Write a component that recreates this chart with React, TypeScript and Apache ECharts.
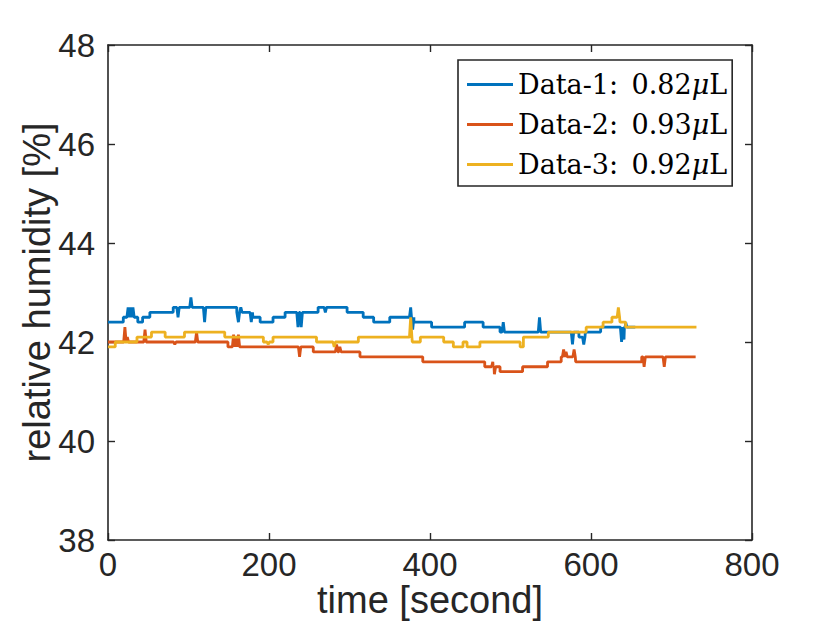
import React, { useEffect, useRef } from "react";
import * as echarts from "echarts";

// ---- Data (time in seconds, relative humidity in %) ----
// Step levels: [start time, value]; each level holds until the next start (or the end time)
const blueSteps: [number, number][] = [
  [0, 42.4], [19, 42.5], [37, 42.4], [43, 42.5], [52, 42.6], [81, 42.7], [160, 42.6],
  [180, 42.5], [189, 42.4], [205, 42.5], [220, 42.6], [261, 42.7], [297, 42.6], [317, 42.5],
  [330, 42.4], [350, 42.5], [380, 42.4], [402, 42.3], [443, 42.4], [466, 42.3], [487, 42.2],
  [585, 42.1], [593, 42.2], [612, 42.3],
];
const blueEnd = 655;
const blueSpikes: [number, number][] = [
  [25, 42.7], [28.5, 42.7], [31, 42.7], [87, 42.5], [103, 42.9], [120, 42.4], [162, 42.4],
  [165, 42.7], [178, 42.4], [236, 42.3], [240, 42.3], [270, 42.6], [376, 42.7], [378.5, 42.25],
  [491, 42.4], [536, 42.5], [577, 41.95], [591, 41.95], [638, 42.0], [641, 42.05], [643, 42.4],
];

const redSteps: [number, number][] = [
  [0, 42.0], [149, 41.9], [255, 41.8], [313, 41.7], [391, 41.6], [468, 41.5], [487, 41.4],
  [515, 41.5], [546, 41.6], [563, 41.7], [581, 41.6], [663, 41.7],
];
const redEnd = 730;
const redSpikes: [number, number][] = [
  [21, 42.3], [24, 42.1], [46, 42.25], [83, 41.95], [110, 42.2], [156, 42.15], [159, 42.1],
  [162, 42.15], [238, 41.7], [284, 41.95], [288, 41.9], [478, 41.6], [480, 41.35],
  [566, 41.85], [569, 41.8], [579, 41.85], [666, 41.5], [691, 41.5],
];

const yellowSteps: [number, number][] = [
  [0, 41.9], [9, 42.0], [36, 42.1], [54, 42.2], [71, 42.1], [95, 42.2], [145, 42.1],
  [193, 42.0], [205, 42.1], [259, 42.0], [311, 42.1], [378, 42.0], [388, 42.1], [417, 42.0],
  [429, 41.9], [441, 42.0], [446, 41.9], [462, 42.0], [512, 41.9], [516, 42.1], [547, 42.2],
  [594, 42.3], [615, 42.4], [626, 42.5], [636, 42.4], [643, 42.3],
];
const yellowEnd = 731;
const yellowSpikes: [number, number][] = [
  [199, 41.95], [281, 41.9], [376, 42.5], [634, 42.7],
];

const seriesNames = ["Data-1:\u20020.82μL", "Data-2:\u20020.93μL", "Data-3:\u20020.92μL"];
const seriesColors = ["#0072BD", "#D95319", "#EDB120"];
const xTicks = { min: 0, max: 800, interval: 200 };
const yTicks = { min: 38, max: 48, interval: 2 };

function levelAt(steps: [number, number][], t: number): number {
  let v = steps[0][1];
  for (const [s, val] of steps) if (s <= t) v = val;
  return v;
}

function buildLine(steps: [number, number][], end: number, spikes: [number, number][]) {
  const pts: { t: number; v: number; k: number }[] = [];
  let k = 0;
  steps.forEach(([s, v], i) => {
    const e = i + 1 < steps.length ? steps[i + 1][0] : end;
    pts.push({ t: s, v, k: k++ });
    pts.push({ t: e, v, k: k++ });
  });
  const half = 1.5;
  spikes.forEach(([t, sv]) => {
    pts.push({ t: t - half, v: levelAt(steps, t - half), k: k++ });
    pts.push({ t, v: sv, k: k++ });
    pts.push({ t: t + half, v: levelAt(steps, t + half), k: k++ });
  });
  pts.sort((a, b) => (a.t - b.t) || (a.k - b.k));
  return pts.map((p) => [p.t, p.v]);
}

const AXIS_COLOR = "#262626";
const SANS = "'Liberation Sans', Arial, Helvetica, sans-serif";
const SERIF = "'DejaVu Serif', 'Liberation Serif', serif";

export default function App() {
  const ref = useRef<HTMLDivElement>(null);

  useEffect(() => {
    if (!ref.current) return;
    const chart = echarts.init(ref.current, undefined, { renderer: "svg" });
    const lines = [
      buildLine(blueSteps, blueEnd, blueSpikes),
      buildLine(redSteps, redEnd, redSpikes),
      buildLine(yellowSteps, yellowEnd, yellowSpikes),
    ];
    const axisCommon = {
      type: "value" as const,
      axisLine: { show: true, onZero: false, lineStyle: { color: AXIS_COLOR, width: 1.6 } },
      axisTick: { show: true, inside: true, length: 7, lineStyle: { color: AXIS_COLOR, width: 1.4 } },
      splitLine: { show: false },
    };
    chart.setOption({
      animation: false,
      backgroundColor: "#ffffff",
      grid: {
        left: 108,
        top: 45,
        width: 644,
        height: 495,
        containLabel: false,
        outerBoundsMode: "none",
      },
      legend: {
        orient: "vertical",
        left: 458,
        top: 60,
        padding: [11, 5, 8, 9],
        itemGap: 13,
        itemWidth: 46,
        itemHeight: 3,
        icon: "rect",
        borderColor: AXIS_COLOR,
        borderWidth: 1.6,
        backgroundColor: "#ffffff",
        data: seriesNames,
        formatter: (name: string) => name.replace("μ", "{mu|μ}"),
        textStyle: {
          fontFamily: SERIF,
          fontSize: 27,
          color: "#000",
          rich: { mu: { fontFamily: SERIF, fontSize: 27, fontStyle: "italic", color: "#000" } },
        },
      },
      xAxis: [
        {
          ...axisCommon,
          ...xTicks,
          position: "bottom",
          axisLabel: {
            show: true, fontFamily: SANS, fontSize: 33, lineHeight: 26,
            color: AXIS_COLOR, margin: 11,
          },
          name: "time [second]",
          nameLocation: "middle",
          nameGap: 45,
          nameMoveOverlap: false,
          nameTextStyle: { fontFamily: SANS, fontSize: 38, lineHeight: 30, color: AXIS_COLOR },
        },
        {
          ...axisCommon,
          ...xTicks,
          position: "top",
          axisLabel: { show: false },
        },
      ],
      yAxis: [
        {
          ...axisCommon,
          ...yTicks,
          position: "left",
          axisLabel: { show: true, fontFamily: SANS, fontSize: 33, color: AXIS_COLOR, margin: 13 },
          name: "relative humidity [%]",
          nameLocation: "middle",
          nameGap: 52,
          nameMoveOverlap: false,
          nameTextStyle: { fontFamily: SANS, fontSize: 38, color: AXIS_COLOR },
        },
        {
          ...axisCommon,
          ...yTicks,
          position: "right",
          axisLabel: { show: false },
        },
      ],
      series: lines.map((data, i) => ({
        name: seriesNames[i],
        type: "line",
        xAxisIndex: 0,
        yAxisIndex: 0,
        data,
        symbol: "none",
        showSymbol: false,
        color: seriesColors[i],
        lineStyle: { color: seriesColors[i], width: 2.8 },
        z: 2 + i,
      })),
    });
    return () => chart.dispose();
  }, []);

  return (
    <div
      ref={ref}
      style={{ position: "fixed", left: 0, top: 0, width: 830, height: 623, background: "#fff" }}
    />
  );
}
